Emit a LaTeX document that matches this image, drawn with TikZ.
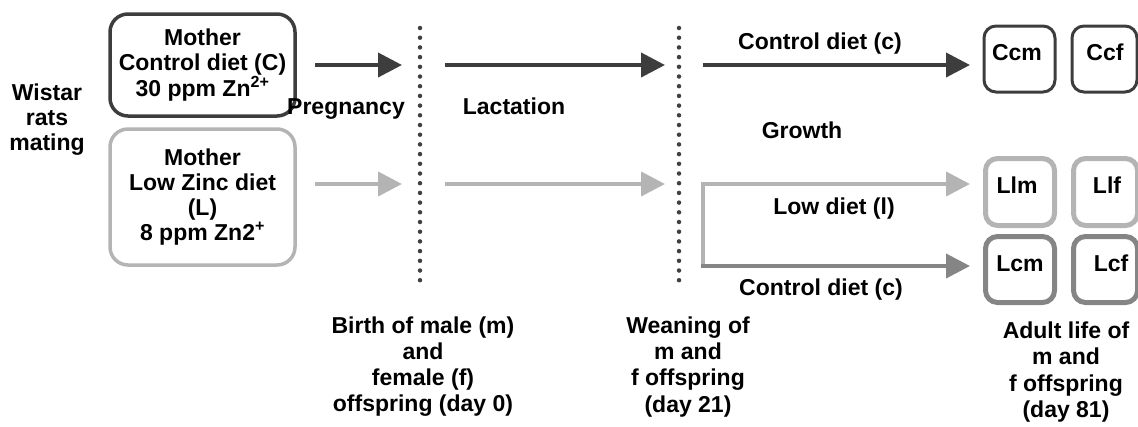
\documentclass[tikz,border=0pt]{standalone}
\usepackage{fontspec}
\setmainfont{Liberation Sans}
\usetikzlibrary{arrows.meta}
\definecolor{dk}{HTML}{3D3D3D}
\definecolor{lt}{HTML}{B4B4B4}
\definecolor{md}{HTML}{858585}
\definecolor{dot}{HTML}{404040}
\begin{document}
\begin{tikzpicture}[x=1pt,y=-1pt,
  every node/.style={font=\bfseries\fontsize{23}{25}\selectfont, inner sep=0pt, align=center, text=black},
  lowtxt/.style={font=\bfseries\fontsize{23}{26.3}\selectfont},
  bigbox/.style={draw, rounded corners=18pt, line width=3.5pt, minimum width=185pt},
  smallbox/.style={draw, rounded corners=12pt, minimum height=66pt},
  arr/.style={line width=4pt, -{Triangle[length=24pt,width=24pt]}},
  dots/.style={draw=dot, line width=4.5pt, line cap=round, dash pattern=on 0pt off 9.7pt}]
\useasboundingbox (0,0) rectangle (1138,426);

% left text
\node (wistar) at (47,119.3) {Wistar\\rats\\mating};

% mother boxes
\node[bigbox, draw=dk, minimum height=102pt] (mC) at (202.5,65) {Mother\\Control diet (C)\\30 ppm Zn\textsuperscript{2+}};
\node[bigbox, draw=lt, minimum height=136pt] (mL) at (202.5,197) {Mother\\Low Zinc diet\\(L)\\8 ppm Zn2\textsuperscript{+}};

% dotted separators
\coordinate (d1t) at (420,28);
\coordinate (d1b) at (420,283);
\coordinate (d2t) at (679,28);
\coordinate (d2b) at (679,283);
\draw[dots] (d1t) -- (d1b);
\draw[dots] (d2t) -- (d2b);

% arrow coordinates
\coordinate (c1s) at (315,65);  \coordinate (c1e) at (402,65);
\coordinate (l1s) at (315,184); \coordinate (l1e) at (402,184);
\coordinate (c2s) at (445,65);  \coordinate (c2e) at (665,65);
\coordinate (l2s) at (445,184); \coordinate (l2e) at (665,184);
\coordinate (c3s) at (703,65);  \coordinate (c3e) at (970,65);
\coordinate (l3s) at (703,184); \coordinate (l3e) at (970,184);
\coordinate (l4s) at (703,266); \coordinate (l4e) at (970,266);

\draw[arr, draw=dk] (c1s) -- (c1e);
\draw[arr, draw=lt] (l1s) -- (l1e);
\draw[arr, draw=dk] (c2s) -- (c2e);
\draw[arr, draw=lt] (l2s) -- (l2e);
\draw[arr, draw=dk] (c3s) -- (c3e);
\draw[arr, draw=lt] (l4s) -- (l3s) -- (l3e);
\draw[arr, draw=md] ([xshift=-2pt]l4s) -- (l4e);

% phase labels
\node[anchor=base] (preg) at (346,114) {Pregnancy};
\node[anchor=base] (lact) at (514,114) {Lactation};
\node[anchor=base] (grow) at (802,138) {Growth};
\node[anchor=base] (cdtop) at (820,49) {Control diet (c)};
\node[anchor=base] (lowd) at (834,214) {Low diet (l)};
\node[anchor=base] (cdbot) at (821,295) {Control diet (c)};

% offspring boxes
\node[smallbox, draw=dk, line width=3pt, minimum width=71pt] (Ccm) at (1019.5,59) {};
\node[smallbox, draw=dk, line width=3pt, minimum width=65pt] (Ccf) at (1104.5,59) {};
\node[smallbox, draw=lt, line width=5pt, minimum width=69pt, minimum height=67pt] (Llm) at (1020,192) {};
\node[smallbox, draw=lt, line width=5pt, minimum width=64pt, minimum height=67pt] (Llf) at (1105.5,192) {};
\node[smallbox, draw=md, line width=5pt, minimum width=69pt] (Lcm) at (1020,269.5) {};
\node[smallbox, draw=md, line width=5pt, minimum width=64pt] (Lcf) at (1105.5,269.5) {};

\node[anchor=base] (Ccmt) at (1017,60) {Ccm};
\node[anchor=base] (Ccft) at (1105,60) {Ccf};
\node[anchor=base] (Llmt) at (1017,193) {Llm};
\node[anchor=base] (Llft) at (1107,193) {Llf};
\node[anchor=base] (Lcmt) at (1020,271) {Lcm};
\node[anchor=base] (Lcft) at (1111,271) {Lcf};

% bottom texts
\node[lowtxt] (birth) at (423,366.6) {Birth of male (m)\\and\\female (f)\\offspring (day 0)};
\node[lowtxt] (wean) at (688,366.6) {Weaning of\\m and\\f offspring\\(day 21)};
\node[lowtxt] (adult) at (1066,372) {Adult life of\\m and\\f offspring\\(day 81)};
\end{tikzpicture}
\end{document}
